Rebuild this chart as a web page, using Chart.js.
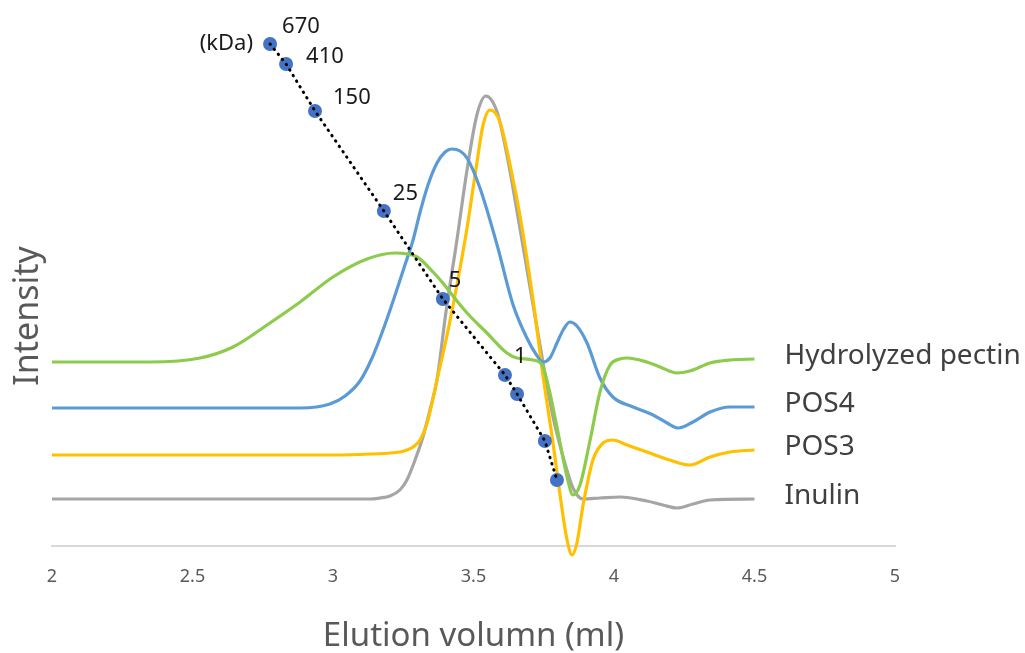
<!DOCTYPE html>
<html>
<head>
<meta charset="utf-8">
<script src="https://cdn.jsdelivr.net/npm/chart.js@4/dist/chart.umd.min.js"></script>
<style>
  html, body { margin: 0; padding: 0; background: #fff; }
  #wrap { width: 1025px; height: 653px; }
</style>
</head>
<body>
<div id="wrap"><canvas id="chart" width="1025" height="653"></canvas></div>
<script>
// Elution profiles, [elution volume (ml), intensity (a.u.)]
const pectin = [[2.0,184],[2.349,184],[2.527,188],[2.644,199],[2.765,221],[2.883,244],[3.0,269],[3.121,287],[3.221,293],[3.299,289],[3.356,274],[3.391,263],[3.427,250],[3.477,233],[3.548,213],[3.619,193],[3.655,188],[3.712,186],[3.747,179],[3.772,153],[3.797,119],[3.833,69],[3.854,51],[3.879,61],[3.915,106],[3.950,154],[3.986,181],[4.021,187],[4.046,188],[4.117,184],[4.164,179],[4.224,173],[4.270,175],[4.342,183],[4.413,186],[4.5,187]];
const pos4 = [[2.0,138],[2.883,138],[2.989,142],[3.043,150],[3.096,165],[3.139,188],[3.178,216],[3.221,251],[3.256,281],[3.285,306],[3.310,334],[3.338,361],[3.370,383],[3.399,394],[3.423,397],[3.452,395],[3.477,388],[3.523,358],[3.584,301],[3.641,241],[3.690,208],[3.722,192],[3.747,184],[3.772,188],[3.797,203],[3.819,216],[3.843,224],[3.868,220],[3.904,203],[3.950,168],[3.996,149],[4.068,139],[4.139,131],[4.189,123],[4.228,118],[4.281,124],[4.342,134],[4.413,139],[4.5,139]];
const pos3 = [[2.0,91],[3.0,91],[3.132,92],[3.238,94],[3.263,96],[3.285,99],[3.310,106],[3.338,126],[3.370,166],[3.406,211],[3.441,261],[3.477,318],[3.512,383],[3.534,421],[3.559,436],[3.594,424],[3.641,366],[3.665,331],[3.712,246],[3.747,171],[3.783,103],[3.808,51],[3.833,6],[3.851,-9],[3.868,3],[3.890,41],[3.925,86],[3.961,103],[3.996,106],[4.046,101],[4.117,94],[4.199,86],[4.270,81],[4.342,89],[4.413,94],[4.5,96]];
const inulin = [[2.0,47],[3.132,47],[3.167,48],[3.203,50],[3.238,56],[3.263,66],[3.292,86],[3.320,109],[3.345,136],[3.370,166],[3.402,234],[3.441,306],[3.477,376],[3.512,431],[3.544,450],[3.584,434],[3.619,391],[3.665,318],[3.712,241],[3.747,184],[3.783,129],[3.819,89],[3.854,58],[3.890,47],[3.950,48],[4.021,49],[4.117,45],[4.174,41],[4.224,38],[4.281,42],[4.342,46],[4.5,47]];

// Molecular weight standards
const standards = [[2.776,502],[2.833,482],[2.936,435],[3.181,335],[3.391,247],[3.612,171],[3.655,152],[3.754,105],[3.797,66]];
const standardLabels = ['670', '410', '150', '25', '5', '1', '', '', ''];

const seriesNames = ['Hydrolyzed pectin', 'POS4', 'POS3', 'Inulin'];
const xTicks = [2, 2.5, 3, 3.5, 4, 4.5, 5];

const colors = ['#8CCB4B', '#5B9BD5', '#FFC000', '#A5A5A5'];
const textColor = '#595959';

const toPoints = arr => arr.map(p => ({ x: p[0], y: p[1] }));

// label offsets for the standards (px)
const labelOffsets = [[12, -17], [20, -7], [18, -13], [9, -17], [6, -18], [9, -18]];

const annotations = {
  id: 'annotations',
  afterDraw(chart) {
    const { ctx, scales: { x, y } } = chart;
    ctx.save();

    // y axis title
    ctx.fillStyle = textColor;
    ctx.font = '34px "Noto Sans"';
    ctx.textAlign = 'center';
    ctx.textBaseline = 'middle';
    ctx.translate(28, 316);
    ctx.rotate(-Math.PI / 2);
    ctx.fillText('Intensity', 0, 0);
    ctx.setTransform(1, 0, 0, 1, 0, 0);

    // series names at the end of each curve
    ctx.font = '28px "Noto Sans"';
    ctx.fillStyle = '#404040';
    ctx.textAlign = 'left';
    [pectin, pos4, pos3, inulin].forEach((s, i) => {
      const last = s[s.length - 1];
      ctx.fillText(seriesNames[i], x.getPixelForValue(last[0]) + 30, y.getPixelForValue(last[1]) - 3);
    });

    // standards labels
    ctx.font = '22px "Noto Sans"';
    ctx.fillStyle = '#1a1a1a';
    standards.forEach((p, i) => {
      if (!standardLabels[i]) return;
      const off = labelOffsets[i];
      ctx.fillText(standardLabels[i], x.getPixelForValue(p[0]) + off[0], y.getPixelForValue(p[1]) + off[1]);
    });
    ctx.textAlign = 'right';
    ctx.fillText('(kDa)', x.getPixelForValue(standards[0][0]) - 17, y.getPixelForValue(standards[0][1]));

    ctx.restore();
  }
};

const curve = (label, data, color) => ({
  label,
  data: toPoints(data),
  borderColor: color,
  borderWidth: 3.2,
  pointRadius: 0,
  cubicInterpolationMode: 'monotone',
  clip: false,
  fill: false
});

new Chart(document.getElementById('chart'), {
  type: 'line',
  data: {
    datasets: [
      {
        label: 'standards line',
        data: toPoints(standards),
        borderColor: '#000',
        borderWidth: 3,
        borderDash: [0.5, 6],
        borderCapStyle: 'round',
        pointRadius: 0,
        fill: false
      },
      {
        label: 'standards',
        data: toPoints(standards),
        showLine: false,
        pointRadius: 7,
        pointBackgroundColor: '#4472C4',
        pointBorderWidth: 0
      },
      curve(seriesNames[0], pectin, colors[0]),
      curve(seriesNames[1], pos4, colors[1]),
      curve(seriesNames[2], pos3, colors[2]),
      curve(seriesNames[3], inulin, colors[3])
    ]
  },
  options: {
    responsive: false,
    animation: false,
    layout: { padding: { left: 52, right: 130, top: 10, bottom: 0 } },
    plugins: { legend: { display: false }, tooltip: { enabled: false } },
    scales: {
      x: {
        type: 'linear',
        min: 2,
        max: 5,
        afterBuildTicks: s => { s.ticks = xTicks.map(v => ({ value: v })); },
        afterFit: s => { s.height = 107; },
        grid: { display: false, drawTicks: false },
        border: { display: true, color: '#D9D9D9', width: 2 },
        ticks: {
          padding: 20,
          color: textColor,
          font: { family: 'Noto Sans', size: 18 },
          callback: v => String(v)
        },
        title: {
          display: true,
          text: 'Elution volumn (ml)',
          color: textColor,
          font: { family: 'Noto Sans', size: 33, lineHeight: 1 },
          padding: { top: 0, bottom: 0 }
        }
      },
      y: {
        display: false,
        min: 0,
        max: 536
      }
    }
  },
  plugins: [annotations]
});
</script>
</body>
</html>
